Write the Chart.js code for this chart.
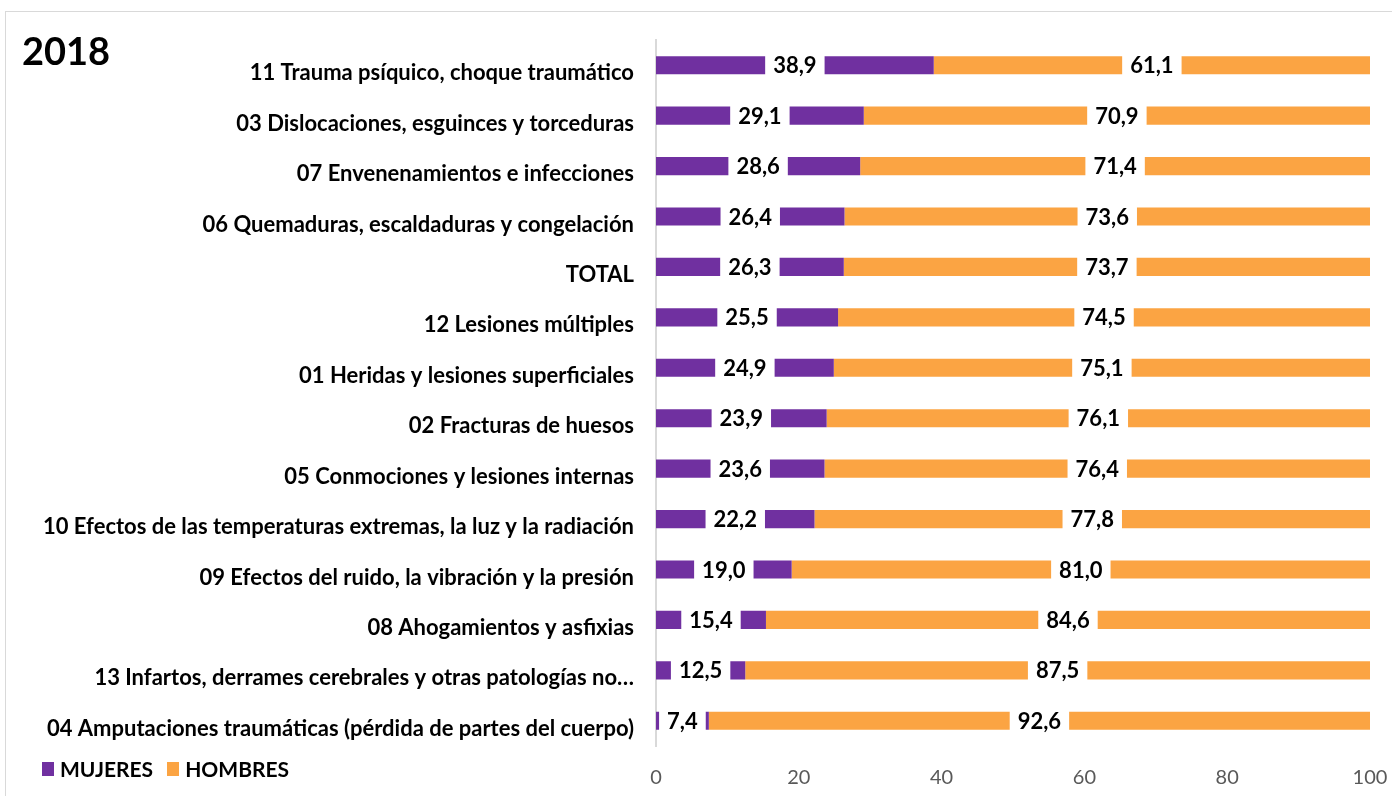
<!DOCTYPE html>
<html>
<head>
<meta charset="utf-8">
<script src="https://cdn.jsdelivr.net/npm/chart.js@4.4.1/dist/chart.umd.min.js"></script>
<style>
  html, body { margin: 0; padding: 0; background: #fff; }
  #wrap { position: relative; width: 1392px; height: 796px; overflow: hidden; }
  #frame { position: absolute; left: 5px; top: 11px; width: 1400px; height: 800px; border: 1px solid #d9d9d9; box-sizing: border-box; }
  #title { position: absolute; left: 22px; top: 27px; font: bold 38px Lato, sans-serif; color: #000; }
  #legend { position: absolute; left: 42px; top: 756px; font: bold 21px Lato, sans-serif; color: #000; display: flex; align-items: center; }
  #legend span.sw { display: inline-block; width: 12px; height: 14px; margin-right: 6px; }
  #legend span.lbl { margin-right: 14px; }
  canvas { position: absolute; left: 0; top: 0; }
</style>
</head>
<body>
<div id="wrap">
  <div id="frame"></div>
  <canvas id="chart" width="1392" height="796"></canvas>
  <div id="title">2018</div>
  <div id="legend">
    <span class="sw" style="background:#7030a0"></span><span class="lbl">MUJERES</span>
    <span class="sw" style="background:#fba443"></span><span class="lbl">HOMBRES</span>
  </div>
</div>
<script>
const categories = [
  '11 Trauma psíquico, choque traumático',
  '03 Dislocaciones, esguinces y torceduras',
  '07 Envenenamientos e infecciones',
  '06 Quemaduras, escaldaduras y congelación',
  'TOTAL',
  '12 Lesiones múltiples',
  '01 Heridas y lesiones superficiales',
  '02 Fracturas de huesos',
  '05 Conmociones y lesiones internas',
  '10 Efectos de las temperaturas extremas, la luz y la radiación',
  '09 Efectos del ruido, la vibración y la presión',
  '08 Ahogamientos y asfixias',
  '13 Infartos, derrames cerebrales y otras patologías no…',
  '04 Amputaciones traumáticas (pérdida de partes del cuerpo)'
];
const mujeres = [38.9, 29.1, 28.6, 26.4, 26.3, 25.5, 24.9, 23.9, 23.6, 22.2, 19.0, 15.4, 12.5, 7.4];
const hombres = [61.1, 70.9, 71.4, 73.6, 73.7, 74.5, 75.1, 76.1, 76.4, 77.8, 81.0, 84.6, 87.5, 92.6];
const xTicks = [0, 20, 40, 60, 80, 100];

const fmt = v => v.toFixed(1).replace('.', ',');

// labels centred on each segment, with a white box behind them
const segmentLabels = {
  id: 'segmentLabels',
  afterDatasetsDraw(chart) {
    const ctx = chart.ctx;
    ctx.save();
    ctx.font = 'bold 22px Lato, sans-serif';
    ctx.textAlign = 'center';
    ctx.textBaseline = 'middle';
    chart.data.datasets.forEach((ds, i) => {
      chart.getDatasetMeta(i).data.forEach((bar, j) => {
        const txt = fmt(ds.data[j]);
        const x = (bar.base + bar.x) / 2;
        const w = ctx.measureText(txt).width + 16;
        ctx.fillStyle = '#fff';
        ctx.fillRect(x - w / 2, bar.y - 14, w, 28);
        ctx.fillStyle = '#000';
        ctx.fillText(txt, x, bar.y + 1);
      });
    });
    ctx.restore();
  }
};

new Chart(document.getElementById('chart'), {
  type: 'bar',
  data: {
    labels: categories,
    datasets: [
      { label: 'MUJERES', data: mujeres, backgroundColor: '#7030a0' },
      { label: 'HOMBRES', data: hombres, backgroundColor: '#fba443' }
    ]
  },
  options: {
    indexAxis: 'y',
    responsive: false,
    animation: false,
    layout: { padding: { top: 40, right: 22, left: 0, bottom: 0 } },
    datasets: { bar: { categoryPercentage: 1, barPercentage: 0.36 } },
    plugins: { legend: { display: false }, tooltip: { enabled: false } },
    scales: {
      x: {
        stacked: true,
        min: 0,
        max: 100,
        afterBuildTicks: s => { s.ticks = xTicks.map(v => ({ value: v })); },
        afterFit: s => { s.height = 50; s.paddingLeft = 0; s.paddingRight = 0; },
        grid: { display: false, drawTicks: false },
        border: { display: false },
        ticks: { color: '#595959', padding: 20, font: { family: 'Lato', size: 20 } }
      },
      y: {
        stacked: true,
        afterFit: s => { s.width = 656; },
        grid: { display: false, drawTicks: false },
        border: { display: true, color: '#d9d9d9', width: 2 },
        ticks: { color: '#000', padding: 22, labelOffset: 8, font: { family: 'Lato', size: 22, weight: 'bold' } }
      }
    }
  },
  plugins: [segmentLabels]
});
</script>
</body>
</html>
